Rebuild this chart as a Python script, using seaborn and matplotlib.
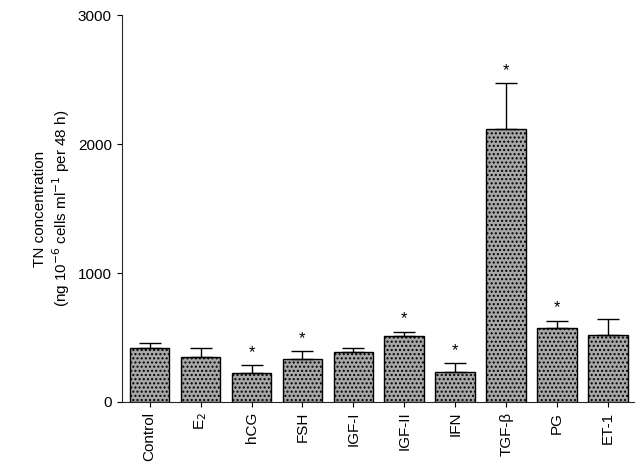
import matplotlib
matplotlib.use("Agg")
import matplotlib.pyplot as plt
import seaborn as sns
import pandas as pd

categories = ["Control", "E$_2$", "hCG", "FSH", "IGF-I", "IGF-II", "IFN", "TGF-β", "PG", "ET-1"]
means = [420, 350, 225, 335, 385, 515, 230, 2120, 575, 520]
errors = [40, 70, 60, 60, 35, 30, 70, 350, 55, 120]
significant = [False, False, True, True, False, True, True, True, True, False]

sns.set_style("ticks")
plt.rcParams['font.family'] = ['Liberation Sans', 'DejaVu Sans']
plt.rcParams.update({'text.color': 'black', 'axes.labelcolor': 'black',
                     'xtick.color': 'black', 'ytick.color': 'black',
                     'hatch.color': '#707070'})

df = pd.DataFrame({"cat": categories, "val": means})
fig = plt.figure(figsize=(6.4, 4.71), dpi=100)
ax = fig.add_axes([0.19, 0.1465, 0.80, 0.8215])
sns.barplot(data=df, x="cat", y="val", color="#a8a8a8", edgecolor="black",
            linewidth=1.0, width=0.78, ax=ax, hatch="....", saturation=1)
ax.errorbar(range(len(categories)), means, yerr=[[0]*len(errors), errors],
            fmt="none", ecolor="black", elinewidth=1, capsize=8, capthick=1)
for i, (m, e, s) in enumerate(zip(means, errors, significant)):
    if s:
        ax.text(i, m + e + 40, "*", ha="center", va="bottom", fontsize=12)
ax.set_ylim(0, 3000)
ax.set_xlim(-0.55, len(categories) - 0.5)
ax.set_yticks([0, 1000, 2000, 3000])
ax.set_xlabel("")
ax.set_ylabel("TN concentration\n(ng 10$^{-6}$ cells ml$^{-1}$ per 48 h)", fontsize=11)
ax.tick_params(axis="x", rotation=90, labelsize=11)
ax.tick_params(axis="y", labelsize=11)
sns.despine(ax=ax)
fig.savefig("out.png", dpi=100)
